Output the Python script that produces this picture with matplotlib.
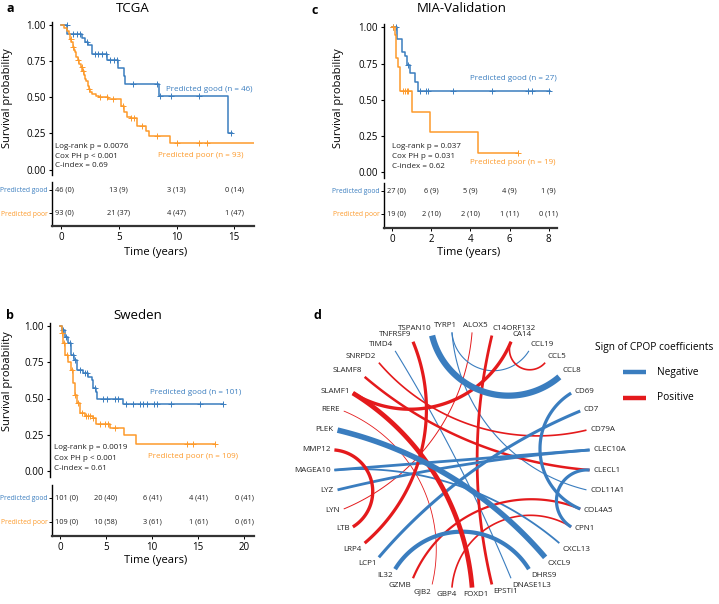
import numpy as np
import matplotlib
matplotlib.use('Agg')
import matplotlib.pyplot as plt
from matplotlib.lines import Line2D

plt.rcParams['font.family'] = ['Open Sans', 'DejaVu Sans']

W, H = 719, 604
BLUE = '#3a7dbf'
ORANGE = '#fd9a2b'
NEG = '#3a7dbf'
POS = '#e41a1c'

# ---------------- KM data ----------------
# TCGA
tcga_good_t = [0, 0.55, 1.8, 2.1, 2.35, 2.65, 3.95, 4.95, 5.45, 5.55, 8.5, 14.5]
tcga_good_s = [1.0, 0.94, 0.91, 0.885, 0.86, 0.80, 0.76, 0.70, 0.65, 0.59, 0.51, 0.25]
tcga_good_end = 14.8
tcga_good_cens = [0.49, 1.06, 1.41, 1.65, 2.28, 2.94, 3.23, 3.52, 3.9, 4.24, 4.59,
                  4.87, 6.26, 8.34, 8.57, 9.52, 11.97, 14.75]
tcga_poor_t = [0, 0.3, 0.5, 0.65, 0.75, 0.85, 1.0, 1.1, 1.2, 1.3, 1.45, 1.6, 1.7, 1.85,
               1.95, 2.1, 2.2, 2.3, 2.4, 2.55, 2.7, 3.0, 3.3, 4.1, 5.2, 5.45, 5.7, 6.1,
               6.55, 7.4, 7.6, 9.4]
tcga_poor_s = [1.0, 0.98, 0.96, 0.935, 0.90, 0.88, 0.85, 0.83, 0.81, 0.78, 0.76, 0.73,
               0.71, 0.68, 0.655, 0.63, 0.61, 0.58, 0.56, 0.54, 0.525, 0.51, 0.50, 0.485,
               0.44, 0.40, 0.365, 0.355, 0.30, 0.265, 0.23, 0.185]
tcga_poor_end = 16.7
tcga_poor_cens = [0.84, 1.0, 1.5, 1.8, 1.93, 2.45, 3.38, 3.96, 4.53, 5.4, 6.1, 6.3,
                  6.98, 8.3, 10.0, 11.97, 12.6]
tcga_times = [0, 5, 10, 15]
tcga_risk_good = ['46 (0)', '13 (9)', '3 (13)', '0 (14)']
tcga_risk_poor = ['93 (0)', '21 (37)', '4 (47)', '1 (47)']
tcga_stats = ['Log-rank p = 0.0076', 'Cox PH p < 0.001', 'C-index = 0.69']
tcga_n = (46, 93)

# MIA-Validation
mia_good_t = [0, 0.24, 0.49, 0.66, 0.75, 0.92, 1.18, 1.35]
mia_good_s = [1.0, 0.917, 0.83, 0.80, 0.74, 0.687, 0.625, 0.56]
mia_good_end = 8.06
mia_good_cens = [0.07, 0.19, 0.83, 1.43, 1.73, 1.85, 3.1, 5.08, 6.96, 7.13, 8.03]
mia_poor_t = [0, 0.15, 0.2, 0.32, 0.41, 1.01, 1.95, 4.37]
mia_poor_s = [1.0, 0.947, 0.786, 0.728, 0.56, 0.418, 0.276, 0.135]
mia_poor_end = 6.45
mia_poor_cens = [0.03, 0.57, 0.66, 0.74, 0.83, 6.44]
mia_times = [0, 2, 4, 6, 8]
mia_risk_good = ['27 (0)', '6 (9)', '5 (9)', '4 (9)', '1 (9)']
mia_risk_poor = ['19 (0)', '2 (10)', '2 (10)', '1 (11)', '0 (11)']
mia_stats = ['Log-rank p = 0.037', 'Cox PH p = 0.031', 'C-index = 0.62']
mia_n = (27, 19)

# Sweden
swe_good_t = [0, 0.2, 0.54, 0.9, 1.16, 1.52, 1.88, 2.53, 3.08, 3.44, 3.6, 3.88, 4.05, 6.9]
swe_good_s = [1.0, 0.97, 0.926, 0.88, 0.80, 0.765, 0.70, 0.674, 0.65, 0.628, 0.57,
              0.547, 0.494, 0.465]
swe_good_end = 17.75
swe_good_cens = [0.36, 0.65, 1.09, 1.38, 1.63, 2.17, 2.72, 2.97, 3.8, 4.7, 5.07, 5.98,
                 6.34, 7.17, 7.97, 8.7, 9.06, 9.42, 10.2, 10.5, 12.1, 15.2, 17.7]
swe_poor_t = [0, 0.18, 0.29, 0.54, 0.9, 1.16, 1.38, 1.63, 1.88, 2.17, 2.7, 3.6, 3.9,
              5.4, 6.96, 8.3]
swe_poor_s = [1.0, 0.95, 0.88, 0.80, 0.754, 0.70, 0.605, 0.524, 0.467, 0.398, 0.38,
              0.363, 0.324, 0.294, 0.248, 0.186]
swe_poor_end = 16.85
swe_poor_cens = [0.18, 0.45, 0.72, 1.27, 1.63, 1.99, 2.36, 2.83, 3.08, 3.26, 3.62,
                 4.35, 4.89, 5.25, 5.98, 13.77, 14.42, 16.85]
swe_times = [0, 5, 10, 15, 20]
swe_risk_good = ['101 (0)', '20 (40)', '6 (41)', '4 (41)', '0 (41)']
swe_risk_poor = ['109 (0)', '10 (58)', '3 (61)', '1 (61)', '0 (61)']
swe_stats = ['Log-rank p = 0.0019', 'Cox PH p < 0.001', 'C-index = 0.61']
swe_n = (101, 109)

# ---------------- Chord data ----------------
genes = ['ALOX5', 'C14ORF132', 'CA14', 'CCL19', 'CCL5', 'CCL8', 'CD69', 'CD7', 'CD79A',
         'CLEC10A', 'CLECL1', 'COL11A1', 'COL4A5', 'CPN1', 'CXCL13', 'CXCL9', 'DHRS9',
         'DNASE1L3', 'EPSTI1', 'FOXD1', 'GBP4', 'GJB2', 'GZMB', 'IL32', 'LCP1', 'LRP4',
         'LTB', 'LYN', 'LYZ', 'MAGEA10', 'MMP12', 'PLEK', 'RERE', 'SLAMF1', 'SLAMF8',
         'SNRPD2', 'TIMD4', 'TNFRSF9', 'TSPAN10', 'TYRP1']
link_from = ['TSPAN10', 'TYRP1', 'TYRP1', 'TIMD4', 'PLEK', 'MAGEA10', 'MAGEA10', 'LYZ',
             'LCP1', 'IL32', 'CD69', 'CLECL1',
             'SLAMF1', 'SLAMF1', 'TNFRSF9', 'SLAMF8', 'SNRPD2', 'RERE', 'ALOX5',
             'C14ORF132', 'CA14', 'MMP12', 'GZMB', 'GBP4']
link_to = ['CCL8', 'CCL19', 'COL11A1', 'DNASE1L3', 'CXCL9', 'CLEC10A', 'CXCL13', 'CLEC10A',
           'CD7', 'DHRS9', 'COL4A5', 'CPN1',
           'FOXD1', 'CA14', 'LRP4', 'CLECL1', 'CD79A', 'GJB2', 'LYN',
           'EPSTI1', 'CCL5', 'LTB', 'COL4A5', 'CPN1']
link_sign = ['-'] * 12 + ['+'] * 12
link_strength = [4.5, 0.8, 0.8, 0.8, 4.0, 2.0, 1.3, 2.0, 2.2, 3.0, 2.3, 2.3,
                 3.4, 2.4, 2.3, 1.8, 1.2, 0.6, 0.7, 2.0, 1.2, 2.4, 1.6, 1.2]

fig = plt.figure(figsize=(W / 100, H / 100), dpi=100)


def px_axes(x0, y0, x1, y1):
    return fig.add_axes([x0 / W, 1 - y1 / H, (x1 - x0) / W, (y1 - y0) / H])


def surv_at(t, times, surv):
    idx = np.searchsorted(times, t, side='right') - 1
    return np.asarray(surv)[idx]


def km_panel(main_px, tab_px, x0px, ppx, y1px, y0px, tab_rows_px,
             good, poor, times, risk_good, risk_poor, stats, n,
             good_lab_xy, poor_lab_xy, stats_xy, title, title_xy, letter, letter_xy,
             ylab_xy, xlab_xy):
    ax = px_axes(*main_px)
    ppy = y0px - y1px
    ax.set_xlim((main_px[0] - x0px) / ppx, (main_px[2] - x0px) / ppx)
    ax.set_ylim((y0px - main_px[3]) / ppy, (y0px - main_px[1]) / ppy)
    for (t, s, end, cens), col in ((good, BLUE), (poor, ORANGE)):
        tt = list(t) + [end]
        ss = list(s) + [s[-1]]
        ax.step(tt, ss, where='post', color=col, lw=1.1)
        ax.plot(cens, surv_at(cens, t, s), ls='none', marker='+', ms=4.5, mew=0.7,
                color=col)
    for sp in ('top', 'right', 'bottom'):
        ax.spines[sp].set_visible(False)
    ax.spines['left'].set_linewidth(1.0)
    ax.set_xticks([])
    ax.set_yticks([0, 0.25, 0.5, 0.75, 1.0])
    ax.set_yticklabels(['0.00', '0.25', '0.50', '0.75', '1.00'], fontsize=7)
    ax.tick_params(axis='y', length=2.5, width=0.8, pad=2)
    ax.text(good_lab_xy[0], good_lab_xy[1], f'Predicted good (n = {n[0]})', color=BLUE,
            fontsize=5.8, va='center', ha='left')
    ax.text(poor_lab_xy[0], poor_lab_xy[1], f'Predicted poor (n = {n[1]})', color=ORANGE,
            fontsize=5.8, va='center', ha='left')
    for i, s in enumerate(stats):
        ax.text(stats_xy[0], stats_xy[1][i], s, fontsize=5.8, va='center', ha='left',
                color='#222222')

    tb = px_axes(*tab_px)
    tb.set_xlim((tab_px[0] - x0px) / ppx, (tab_px[2] - x0px) / ppx)
    gy, py = tab_rows_px
    pr = py - gy
    tb.set_ylim((py - tab_px[3]) / pr, (py - tab_px[1]) / pr)
    for sp in ('top', 'right'):
        tb.spines[sp].set_visible(False)
    tb.spines['left'].set_linewidth(1.0)
    tb.spines['bottom'].set_linewidth(1.6)
    tb.spines['bottom'].set_color('#333333')
    tb.set_xticks(times)
    tb.set_xticklabels([str(v) for v in times], fontsize=7)
    tb.set_yticks([0, 1])
    tb.set_yticklabels(['Predicted poor', 'Predicted good'], fontsize=4.9)
    tb.get_yticklabels()[0].set_color(ORANGE)
    tb.get_yticklabels()[1].set_color(BLUE)
    tb.tick_params(axis='y', length=2, width=0.7, pad=1)
    tb.tick_params(axis='x', length=2, width=0.7, pad=2)
    first_x = tb.get_xlim()[0] + 3.0 / ppx
    for i, (tx, g, p) in enumerate(zip(times, risk_good, risk_poor)):
        if i == 0:
            kw = dict(ha='left')
            xx = first_x
        else:
            kw = dict(ha='center')
            xx = tx
        tb.text(xx, 1, g, fontsize=5.3, va='center', color='#222222', **kw)
        tb.text(xx, 0, p, fontsize=5.3, va='center', color='#222222', **kw)

    fig.text(title_xy[0] / W, 1 - title_xy[1] / H, title, fontsize=9.5, ha='center',
             va='center')
    fig.text(letter_xy[0] / W, 1 - letter_xy[1] / H, letter, fontsize=9,
             fontweight='bold', ha='center', va='center')
    fig.text(ylab_xy[0] / W, 1 - ylab_xy[1] / H, 'Survival probability', fontsize=8,
             rotation=90, ha='center', va='center')
    fig.text(xlab_xy[0] / W, 1 - xlab_xy[1] / H, 'Time (years)', fontsize=8,
             ha='center', va='center')


km_panel((52, 22, 254, 175), (52, 182, 254, 226), 61, 11.55, 25, 169.6, (190, 213),
         (tcga_good_t, tcga_good_s, tcga_good_end, tcga_good_cens),
         (tcga_poor_t, tcga_poor_s, tcga_poor_end, tcga_poor_cens),
         tcga_times, tcga_risk_good, tcga_risk_poor, tcga_stats, tcga_n,
         (9.1, 0.557), (8.4, 0.10), (-0.52, (0.163, 0.094, 0.025)),
         'TCGA', (133, 9), 'a', (10, 9), (8, 98), (156, 252))

km_panel((384, 24, 557, 178), (384, 183, 557, 228), 392, 19.6, 27.3, 172.3, (191, 214),
         (mia_good_t, mia_good_s, mia_good_end, mia_good_cens),
         (mia_poor_t, mia_poor_s, mia_poor_end, mia_poor_cens),
         mia_times, mia_risk_good, mia_risk_poor, mia_stats, mia_n,
         (3.98, 0.65), (3.98, 0.071), (0.0, (0.18, 0.112, 0.043)),
         'MIA-Validation', (462, 9), 'c', (315, 10), (339, 98), (469, 252))

km_panel((50, 323, 254, 477), (52, 485, 254, 536), 60, 9.2, 326, 471, (498, 522),
         (swe_good_t, swe_good_s, swe_good_end, swe_good_cens),
         (swe_poor_t, swe_poor_s, swe_poor_end, swe_poor_cens),
         swe_times, swe_risk_good, swe_risk_poor, swe_stats, swe_n,
         (9.78, 0.538), (9.57, 0.103), (-0.65, (0.159, 0.083, 0.014)),
         'Sweden', (138, 315), 'b', (10, 315), (8, 381), (156, 561))

# ---------------- Chord diagram ----------------
cx, cy, R = 462, 460, 128
axd = px_axes(300, 300, 624, 604)
axd.set_xlim((300 - cx) / R, (624 - cx) / R)
axd.set_ylim(-(604 - cy) / R, (cy - 300) / R)
axd.axis('off')

n_g = len(genes)
ang = {g: np.deg2rad(85.5 - 360.0 / n_g * i) for i, g in enumerate(genes)}


def geodesic(a1, a2, n=120):
    p1 = np.array([np.cos(a1), np.sin(a1)])
    p2 = np.array([np.cos(a2), np.sin(a2)])
    d = (a2 - a1 + np.pi) % (2 * np.pi) - np.pi
    if abs(abs(d) - np.pi) < 0.03:
        s = np.linspace(0, 1, n)
        return p1[0] + (p2[0] - p1[0]) * s, p1[1] + (p2[1] - p1[1]) * s
    h = abs(d) / 2
    mid = a1 + d / 2
    c = np.array([np.cos(mid), np.sin(mid)]) / np.cos(h)
    rho = np.tan(h)
    b1 = np.arctan2(*(p1 - c)[::-1])
    b2 = np.arctan2(*(p2 - c)[::-1])
    db = (b2 - b1 + np.pi) % (2 * np.pi) - np.pi
    t = b1 + db * np.linspace(0, 1, n)
    return c[0] + rho * np.cos(t), c[1] + rho * np.sin(t)


order = np.argsort(link_strength)
for k in order:
    xs, ys = geodesic(ang[link_from[k]], ang[link_to[k]])
    axd.plot(xs, ys, color=NEG if link_sign[k] == '-' else POS,
             lw=link_strength[k], solid_capstyle='butt')

for g in genes:
    a = ang[g]
    c, s = np.cos(a), np.sin(a)
    x, y = 1.03 * c, 1.03 * s
    if abs(c) < 0.12:
        ha = 'right' if c < 0 else 'left'
        x = c + (5.0 if c < 0 else -9.0) / R
    else:
        ha = 'left' if c > 0 else 'right'
    va = 'bottom' if s > 0.55 else ('top' if s < -0.55 else 'center')
    axd.text(x, y, g, fontsize=5.8, ha=ha, va=va, color='#222222')

fig.text(317 / W, 1 - 315 / H, 'd', fontsize=9, fontweight='bold', ha='center',
         va='center')
fig.text(595 / W, 1 - 348 / H, 'Sign of CPOP coefficients', fontsize=7.3,
         ha='left', va='center')
for yy, col, lab in ((372, NEG, 'Negative'), (398, POS, 'Positive')):
    fig.add_artist(Line2D([623 / W, 646 / W], [1 - yy / H] * 2, color=col, lw=3.2,
                          transform=fig.transFigure, solid_capstyle='butt'))
    fig.text(657 / W, 1 - yy / H, lab, fontsize=7.3, ha='left', va='center')

fig.savefig('out.png', dpi=100, facecolor='white')
